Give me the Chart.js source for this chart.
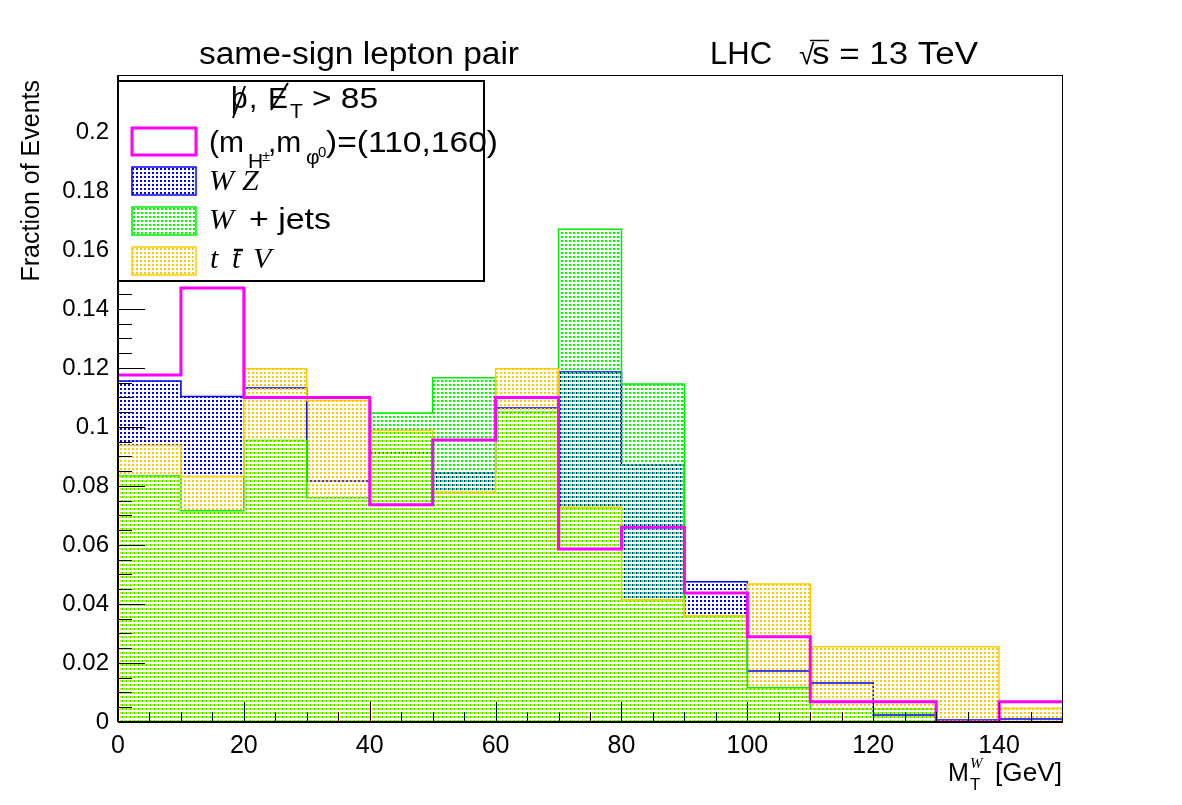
<!DOCTYPE html>
<html>
<head>
<meta charset="utf-8">
<script src="https://cdn.jsdelivr.net/npm/chart.js@4.4.0/dist/chart.umd.min.js"></script>
<style>
  html, body { margin: 0; padding: 0; background: #fff; }
  #wrap { width: 1182px; height: 805px; }
</style>
</head>
<body>
<div id="wrap"><canvas id="histo" width="1182" height="805"></canvas></div>
<script>
// bin edges (GeV) and normalised contents per sample
const binEdges = [0, 10, 20, 30, 40, 50, 60, 70, 80, 90, 100, 110, 120, 130, 140, 150];
const signal  = [0.1176, 0.1471, 0.1100, 0.1100, 0.0736, 0.0956, 0.1100, 0.0586, 0.0660, 0.0437, 0.0289, 0.0069, 0.0069, 0.0000, 0.0069];
const wz      = [0.1156, 0.1103, 0.1132, 0.0817, 0.0913, 0.0844, 0.1064, 0.1186, 0.0871, 0.0475, 0.0173, 0.0132, 0.0024, 0.0007, 0.0010];
const wjets   = [0.0834, 0.0716, 0.0954, 0.0760, 0.1047, 0.1167, 0.1050, 0.1670, 0.1146, 0.0360, 0.0116, 0.0044, 0.0044, 0.0000, 0.0000];
const ttv     = [0.0937, 0.0832, 0.1197, 0.1090, 0.0988, 0.0780, 0.1197, 0.0728, 0.0414, 0.0360, 0.0468, 0.0255, 0.0255, 0.0255, 0.0047];
const xTicks = [0, 20, 40, 60, 80, 100, 120, 140];
const yTicks = [0, 0.02, 0.04, 0.06, 0.08, 0.1, 0.12, 0.14, 0.16, 0.18, 0.2];

// histogram -> stepped points
function histoPoints(vals) {
    const pts = vals.map((v, i) => ({ x: binEdges[i], y: v }));
    pts.push({ x: binEdges[binEdges.length - 1], y: vals[vals.length - 1] });
    return pts;
}

// ROOT-like dotted fill
function dots(color, ox, oy) {
    const c = document.createElement('canvas');
    c.width = 4; c.height = 4;
    const g = c.getContext('2d');
    g.fillStyle = color;
    g.fillRect(ox, oy, 2, 2);
    return g.createPattern(c, 'repeat');
}

const cBlue = '#0000ff', cGreen = '#00ee00', cGold = '#ffcc00', cMag = '#ff00ff';
const patBlue = dots(cBlue, 0, 0);
const patGreen = dots('#00ff00', 1, 0);
const patGold = dots(cGold, 0, 0);

const SANS = '"Liberation Sans", Arial, sans-serif';
const SERIF = '"Liberation Serif", "Times New Roman", serif';

function txt(ctx, s, x, y, size, opt) {
    opt = opt || {};
    ctx.save();
    ctx.font = (opt.italic ? 'italic ' : '') + size + 'px ' + (opt.serif ? SERIF : SANS);
    ctx.fillStyle = '#000';
    ctx.textBaseline = 'alphabetic';
    ctx.textAlign = 'left';
    ctx.translate(x, y);
    if (opt.w) {
        const m = ctx.measureText(s).width;
        ctx.scale(opt.w / m, 1);
    }
    ctx.fillText(s, 0, 0);
    ctx.restore();
}

function line(ctx, x1, y1, x2, y2, w, col) {
    ctx.save();
    ctx.strokeStyle = col || '#000';
    ctx.lineWidth = w || 1;
    ctx.beginPath();
    ctx.moveTo(x1, y1);
    ctx.lineTo(x2, y2);
    ctx.stroke();
    ctx.restore();
}

// frame, inner ticks, titles and legend
const rootDeco = {
    id: 'rootDeco',
    afterDatasetsDraw(chart) {
        const ctx = chart.ctx;
        const a = chart.chartArea;
        const xs = chart.scales.x, ys = chart.scales.y;

        // inner ticks
        for (let v = 0; v <= 150.001; v += 5) {
            const px = Math.round(xs.getPixelForValue(v)) + 0.5;
            const len = (Math.round(v) % 20 === 0) ? 20 : 10;
            line(ctx, px, a.bottom, px, a.bottom - len, 1);
        }
        for (let k = 0; k * 0.005 <= 0.2185; k++) {
            const py = Math.round(ys.getPixelForValue(k * 0.005)) + 0.5;
            const len = (k % 4 === 0) ? 27 : 14;
            line(ctx, a.left, py, a.left + len, py, 1);
        }

        // frame
        ctx.save();
        ctx.strokeStyle = '#000';
        ctx.lineWidth = 1;
        ctx.strokeRect(a.left + 0.5, a.top + 0.5, a.right - a.left, a.bottom - a.top);
        ctx.restore();
        line(ctx, a.left, a.bottom, a.right, a.bottom, 2);
        line(ctx, a.left, a.top, a.left, a.bottom, 2);

        // legend box
        ctx.save();
        ctx.fillStyle = '#fff';
        ctx.fillRect(118, 81, 366, 200);
        ctx.strokeStyle = '#000';
        ctx.lineWidth = 2;
        ctx.strokeRect(118, 81, 366, 200);
        ctx.restore();

        // header: p-slash, E-slash_T > 85
        txt(ctx, 'þ', 231, 108, 30);
        line(ctx, 233, 118, 245, 86, 2);
        txt(ctx, ',', 249, 108, 30);
        txt(ctx, 'E', 268, 108, 30);
        line(ctx, 271, 110, 288, 83, 2);
        txt(ctx, 'T', 290, 118, 21);
        txt(ctx, '> 85', 312, 108, 30, { w: 66 });

        // legend entries
        ctx.save();
        ctx.strokeStyle = cMag; ctx.lineWidth = 3;
        ctx.strokeRect(132, 128, 64, 27);
        const boxes = [[patBlue, cBlue, 167], [patGreen, cGreen, 207], [patGold, cGold, 247]];
        boxes.forEach(b => {
            ctx.fillStyle = b[0];
            ctx.fillRect(132, b[2], 64, 28);
            ctx.strokeStyle = b[1]; ctx.lineWidth = 1.5;
            ctx.strokeRect(132, b[2], 64, 28);
        });
        ctx.restore();

        txt(ctx, '(m', 209, 152, 30);
        txt(ctx, 'H', 248, 168, 21);
        txt(ctx, '±', 262, 161, 15);
        txt(ctx, ',m', 268, 152, 30);
        txt(ctx, 'φ', 306, 164, 21);
        txt(ctx, '0', 318, 157, 15);
        txt(ctx, ')=(110,160)', 326, 152, 30, { w: 172 });

        txt(ctx, 'W', 209, 190, 30, { serif: true, italic: true });
        txt(ctx, 'Z', 242, 190, 30, { serif: true, italic: true });

        txt(ctx, 'W', 209, 229, 30, { serif: true, italic: true });
        txt(ctx, '+ jets', 249, 229, 30, { w: 82 });

        txt(ctx, 't', 210, 268, 30, { serif: true, italic: true });
        txt(ctx, 't', 232, 268, 30, { serif: true, italic: true });
        line(ctx, 234, 250, 243, 250, 2.5);
        txt(ctx, 'V', 253, 268, 30, { serif: true, italic: true });

        // titles
        txt(ctx, 'same-sign lepton pair', 199, 64, 31, { w: 320 });
        txt(ctx, 'LHC', 710, 64, 31);
        txt(ctx, '√', 799, 64, 28);
        txt(ctx, 's = 13 TeV', 812, 64, 31, { w: 166 });
        line(ctx, 810, 40.5, 829, 40.5, 1.5);

        // axis titles
        ctx.save();
        ctx.translate(39, 80);
        ctx.rotate(-Math.PI / 2);
        ctx.font = '25px ' + SANS;
        ctx.fillStyle = '#000';
        ctx.textAlign = 'right';
        ctx.fillText('Fraction of Events', 0, 0);
        ctx.restore();

        txt(ctx, 'M', 948, 781, 25);
        txt(ctx, 'T', 970, 790, 17);
        txt(ctx, 'W', 970, 768, 15, { serif: true, italic: true });
        txt(ctx, '[GeV]', 995, 781, 25, { w: 67 });
    }
};

function sample(label, vals, col, pat, width, order) {
    return {
        label: label,
        data: histoPoints(vals),
        stepped: 'before',
        borderColor: col,
        borderWidth: width,
        backgroundColor: pat || 'rgba(0,0,0,0)',
        fill: pat ? 'origin' : false,
        pointRadius: 0,
        order: order
    };
}

new Chart(document.getElementById('histo'), {
    type: 'line',
    data: {
        datasets: [
            sample('(m_H±,m_φ0)=(110,160)', signal, cMag, null, 3, 0),
            sample('W Z', wz, cBlue, patBlue, 1.5, 3),
            sample('W + jets', wjets, cGreen, patGreen, 1.5, 2),
            sample('t t̄ V', ttv, cGold, patGold, 1.5, 1)
        ]
    },
    options: {
        responsive: false,
        animation: false,
        layout: { padding: { top: 75, right: 120, left: 0, bottom: 0 } },
        plugins: { legend: { display: false }, tooltip: { enabled: false } },
        scales: {
            x: {
                type: 'linear', min: 0, max: 150,
                afterFit: s => { s.height = 83; },
                afterBuildTicks: s => { s.ticks = xTicks.map(v => ({ value: v })); },
                grid: { drawOnChartArea: false, drawTicks: false },
                border: { display: false },
                ticks: { padding: 9, color: '#000', font: { family: SANS, size: 25 }, maxRotation: 0 }
            },
            y: {
                type: 'linear', min: 0, max: 0.2193,
                afterFit: s => { s.width = 118; },
                afterBuildTicks: s => { s.ticks = yTicks.map(v => ({ value: v })); },
                grid: { drawOnChartArea: false, drawTicks: false },
                border: { display: false },
                ticks: {
                    padding: 9, color: '#000', font: { family: SANS, size: 24 },
                    callback: v => String(+v.toFixed(3))
                }
            }
        }
    },
    plugins: [rootDeco]
});
</script>
</body>
</html>
